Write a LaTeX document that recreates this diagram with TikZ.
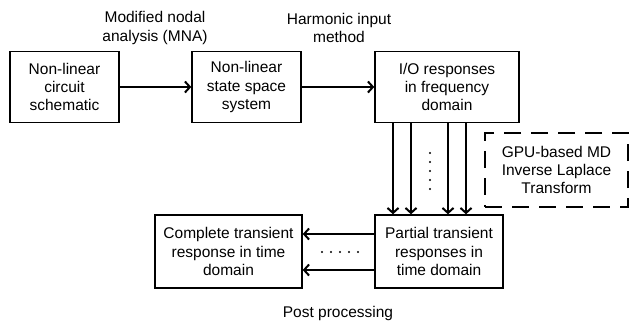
\documentclass[tikz,border=0pt]{standalone}
\usepackage{fontspec}
\setmainfont{Liberation Sans}
\usetikzlibrary{arrows.meta}
\begin{document}
\begin{tikzpicture}[x=1pt,y=-1pt,
  every node/.style={font=\fontsize{15.5}{18.3}\selectfont, align=center, inner sep=0pt},
  box/.style={draw, line width=1.4pt, minimum width=#1, minimum height=71pt},
  dbox/.style={draw, line width=2.8pt, dash pattern=on 17pt off 10pt, minimum width=143pt, minimum height=74pt},
  conn/.style={line width=2.4pt, -{Straight Barb[length=5pt,width=11pt,line width=2pt]}},
  dotmark/.style={fill, circle, minimum size=2.4pt, inner sep=0pt}]
\useasboundingbox (0,0) rectangle (630,327);
\node[box=109pt] (b1) at (64.5,87) {Non-linear\\circuit\\schematic};
\node[box=109pt] (b2) at (246.5,87) {Non-linear\\state space\\system};
\node[box=144pt] (b3) at (447,87) {I/O responses\\in frequency\\domain};
\node[box=128pt, minimum height=73pt] (b4) at (439,251.5) {Partial transient\\responses in\\time domain};
\node[box=147pt, minimum height=73pt] (b5) at (228.5,251.5) {Complete transient\\response in time\\domain};
\node[dbox] (gpu) at (556.5,170) {GPU-based MD\\Inverse Laplace\\Transform};
\node (l1) at (155,28) {Modified nodal\\analysis (MNA)};
\node (l2) at (339,28) {Harmonic input\\method};
\node (l3) at (338,313) {Post processing};
\draw[conn] (b1) -- (b2);
\draw[conn] (b2) -- (b3);
\foreach \x in {393,411,448,466}{
  \draw[conn] (\x,0 |- b3.south) -- (\x,0 |- b4.north);
}
\draw[conn] (b4.west |- 0,234) -- (b5.east |- 0,234);
\draw[conn] (b4.west |- 0,270) -- (b5.east |- 0,270);
\foreach \y in {153,162,171,180,189}{
  \node[dotmark] at (430,\y) {};
}
\foreach \x in {322,331,340,349,358}{
  \node[dotmark] at (\x,252) {};
}
\end{tikzpicture}
\end{document}
